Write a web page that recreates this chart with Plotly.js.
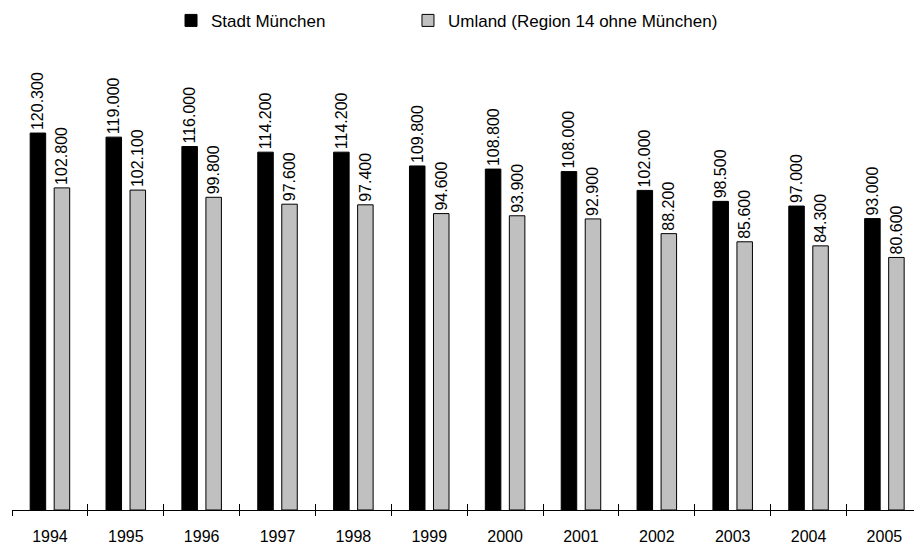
<!DOCTYPE html>
<html>
<head>
<meta charset="utf-8">
<script src="https://cdn.plot.ly/plotly-3.0.1.min.js"></script>
<style>html,body{margin:0;padding:0;background:#fff;}#chart{width:914px;height:547px;}</style>
</head>
<body>
<div id="chart"></div>
<script>
const years = ["1994","1995","1996","1997","1998","1999","2000","2001","2002","2003","2004","2005"];
const stadt = [120300,119000,116000,114200,114200,109800,108800,108000,102000,98500,97000,93000];
const umland = [102800,102100,99800,97600,97400,94600,93900,92900,88200,85600,84300,80600];
const seriesNames = ["Stadt München","Umland (Region 14 ohne München)"];

const font = {family: "Liberation Sans, Arial, sans-serif", size: 16, color: "#000"};
const legendFont = {family: "Liberation Sans, Arial, sans-serif", size: 17, color: "#000"};

const traces = [
  {type: "bar", name: seriesNames[0], x: years, y: stadt, legend: "legend",
   marker: {color: "#000000", line: {color: "#000000", width: 1}},
   texttemplate: "%{y:,.0f}", textposition: "outside", textangle: -90, constraintext: "none",
   textfont: font, cliponaxis: false, hoverinfo: "x+y"},
  {type: "bar", name: seriesNames[1], x: years, y: umland, legend: "legend2",
   marker: {color: "#c0c0c0", line: {color: "#000000", width: 1}},
   texttemplate: "%{y:,.0f}", textposition: "outside", textangle: -90, constraintext: "none",
   textfont: font, cliponaxis: false, hoverinfo: "x+y"},
  {type: "scatter", mode: "markers", x: years, y: years.map(() => 0), xaxis: "x2", yaxis: "y",
   marker: {opacity: 0}, showlegend: false, hoverinfo: "skip"}
];

const xr = [-0.5, 11.39];
const legendBase = {orientation: "h", xanchor: "left", yanchor: "top", y: 1.079,
                    font: legendFont, bgcolor: "rgba(0,0,0,0)"};
const layout = {
  width: 914, height: 547,
  margin: {l: 12, r: 0, t: 40, b: 37},
  paper_bgcolor: "#fff", plot_bgcolor: "#fff",
  font: font,
  separators: ",.",
  barmode: "group", bargap: 0.367, bargroupgap: 0.354,
  showlegend: true,
  legend: Object.assign({}, legendBase, {x: 0.1763}),
  legend2: Object.assign({}, legendBase, {x: 0.439}),
  xaxis: {type: "category", range: xr, tickson: "boundaries", ticks: "outside", ticklen: 5,
          tickcolor: "#000", showline: true, linecolor: "#000", linewidth: 1, showgrid: false,
          zeroline: false, tickfont: font, ticklabelstandoff: 12, fixedrange: true},
  xaxis2: {type: "category", overlaying: "x", anchor: "y", side: "bottom", range: xr, tickson: "boundaries",
           ticks: "inside", ticklen: 6, tickcolor: "#000", showticklabels: false, showgrid: false,
           showline: false, zeroline: false, fixedrange: true},
  yaxis: {range: [0, 150000], visible: false, showgrid: false, zeroline: false, fixedrange: true}
};

Plotly.newPlot("chart", traces, layout, {displayModeBar: false, staticPlot: true});
</script>
</body>
</html>
